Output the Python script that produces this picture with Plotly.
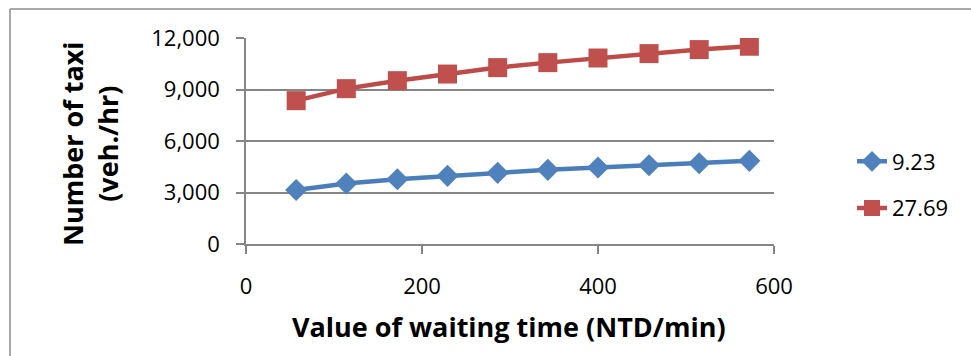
import plotly.graph_objects as go

# Value of waiting time (NTD/min)
waiting_value = [57, 114, 172, 229, 286, 343, 400, 458, 515, 572]

# Number of taxi (veh./hr) for each series
taxi_923 = [3150, 3520, 3770, 3970, 4145, 4320, 4455, 4590, 4705, 4845]
taxi_2769 = [8350, 9050, 9515, 9900, 10275, 10565, 10835, 11090, 11325, 11520]

series_names = ["9.23", "27.69"]
y_ticks = [0, 3000, 6000, 9000, 12000]
x_ticks = [0, 200, 400, 600]

W, H = 971, 356
FONT = "Open Sans"
GRID = "#868686"


def px_x(x):
    return x / W


def px_y(y):
    return 1 - y / H


fig = go.Figure()
fig.add_trace(go.Scatter(
    x=waiting_value, y=taxi_923, name=series_names[0], mode="lines+markers",
    line=dict(color="#4A7EBB", width=4.5),
    marker=dict(symbol="diamond", size=17, color="#4F81BD"),
    legendgroup="a",
))
fig.add_trace(go.Scatter(
    x=waiting_value, y=taxi_2769, name=series_names[1], mode="lines+markers",
    line=dict(color="#BE4B48", width=4.5),
    marker=dict(symbol="square", size=19, color="#C0504D"),
    legendgroup="b",
))

fig.update_layout(
    template="none",
    width=W, height=H, autosize=False,
    margin=dict(l=0, r=0, t=0, b=0, pad=0),
    paper_bgcolor="white", plot_bgcolor="white",
    font=dict(family=FONT, size=22, color="black"),
    showlegend=True,
    legend=dict(
        x=px_x(852), y=px_y(185), xanchor="left", yanchor="middle",
        font=dict(family=FONT, size=22, color="black"),
        tracegroupgap=15, bgcolor="rgba(0,0,0,0)", borderwidth=0,
    ),
    xaxis=dict(
        domain=[px_x(246), px_x(774)], range=[0, 600], automargin=False,
        tickvals=x_ticks, ticktext=[f"{v}" for v in x_ticks],
        showline=True, linecolor=GRID, linewidth=1.5,
        ticks="outside", ticklen=8, tickcolor=GRID, tickwidth=1.5,
        ticklabelstandoff=14, showgrid=False, zeroline=False,
        tickfont=dict(family=FONT, size=22, color="black"),
    ),
    yaxis=dict(
        domain=[px_y(244), px_y(38)], range=[0, 12000], automargin=False,
        tickvals=y_ticks, ticktext=[f"{v:,}" for v in y_ticks],
        showline=True, linecolor=GRID, linewidth=1.5,
        ticks="outside", ticklen=8, tickcolor=GRID, tickwidth=1.5,
        ticklabelstandoff=12,
        showgrid=True, gridcolor=GRID, gridwidth=1.5, zeroline=False,
        tickfont=dict(family=FONT, size=22, color="black"),
    ),
)

# Axis titles
fig.add_annotation(
    x=px_x(509), y=px_y(326), xref="paper", yref="paper",
    text="<b>Value of waiting time (NTD/min)</b>", showarrow=False,
    font=dict(family=FONT, size=27, color="black"),
    xanchor="center", yanchor="middle",
)
fig.add_annotation(
    x=px_x(90), y=px_y(144), xref="paper", yref="paper",
    text="<b>Number of taxi<br>(veh./hr)</b>", showarrow=False,
    textangle=-90, font=dict(family=FONT, size=27, color="black"),
    xanchor="center", yanchor="middle",
)

# Chart frame: left and top edges
fig.add_shape(
    type="line", xref="paper", yref="paper",
    x0=px_x(10), x1=px_x(10), y0=0, y1=px_y(9),
    line=dict(color="#8C8C8C", width=1.5), layer="below",
)
fig.add_shape(
    type="line", xref="paper", yref="paper",
    x0=px_x(10), x1=1, y0=px_y(9), y1=px_y(9),
    line=dict(color="#8C8C8C", width=1.5), layer="below",
)

fig.write_html("out.html")
